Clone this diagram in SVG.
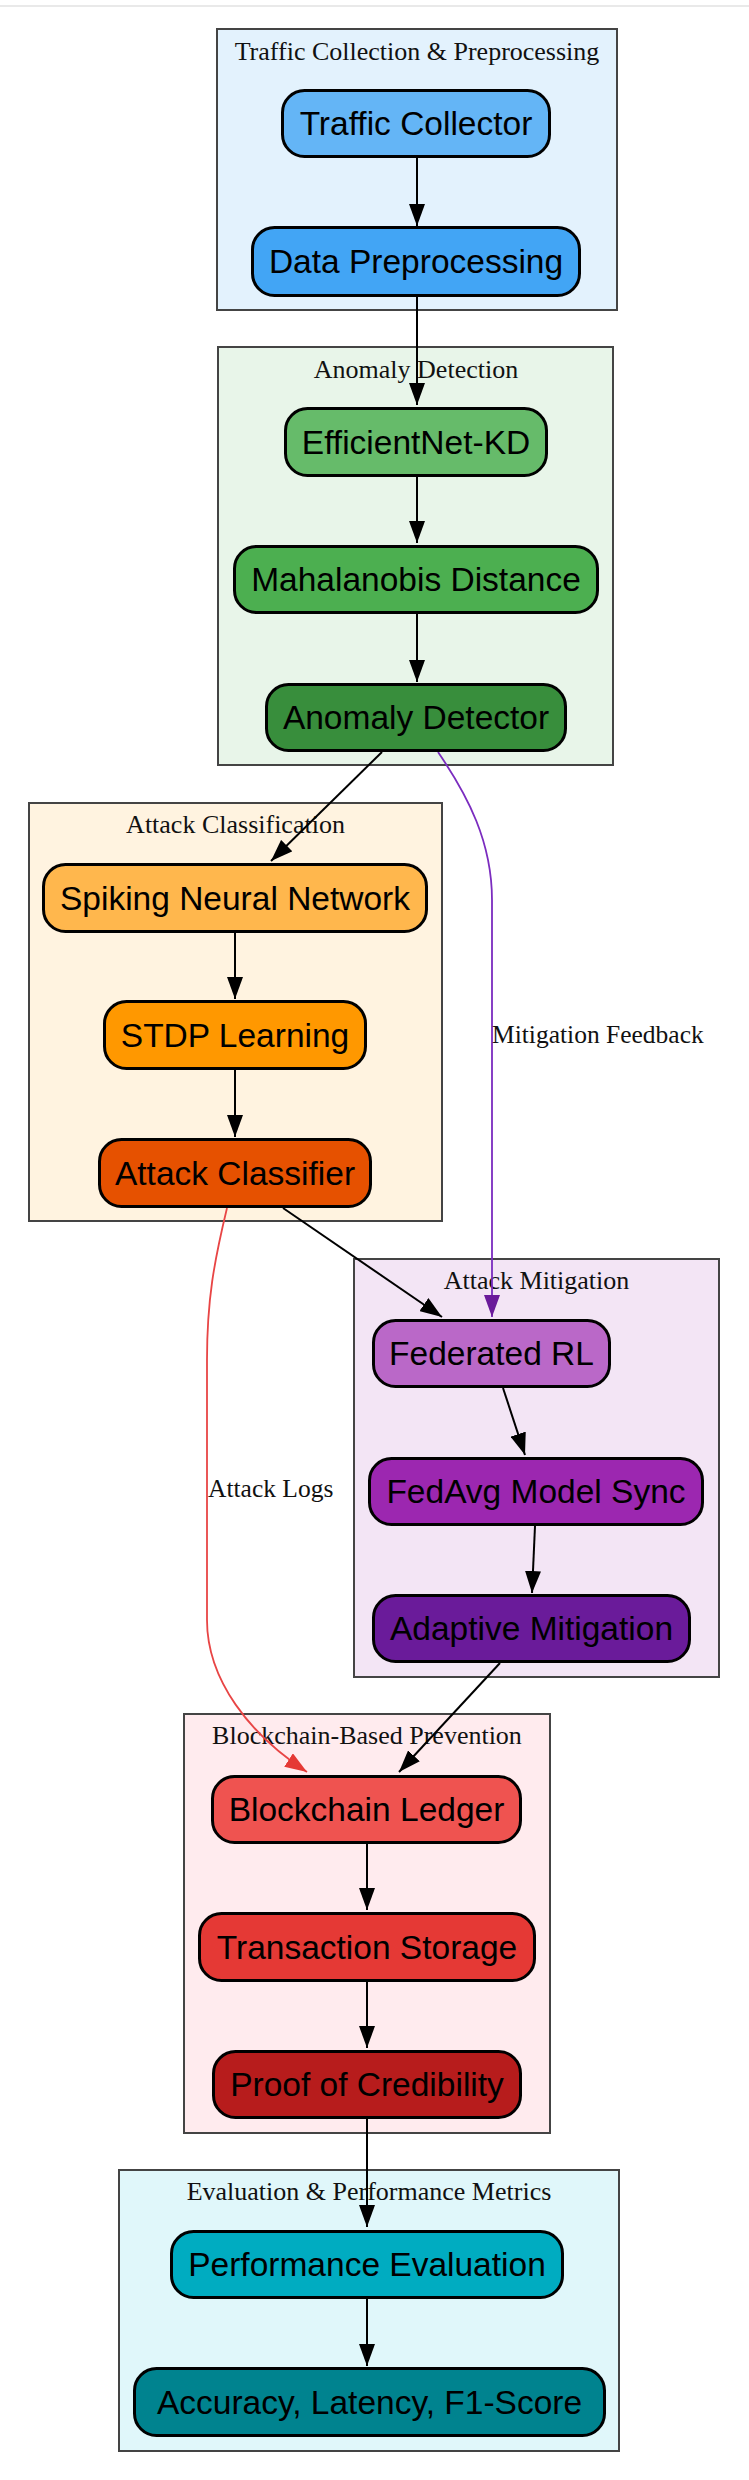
<svg xmlns="http://www.w3.org/2000/svg" width="749" height="2480" viewBox="0 0 749 2480">
<style>
.cl{stroke:#444;stroke-width:2}
.ct{font-family:"Liberation Serif","Times New Roman",serif;font-size:26px;fill:#111;text-anchor:middle}
.nd{stroke:#000;stroke-width:3}
.nt{font-family:"Liberation Sans",Arial,sans-serif;font-size:33.5px;fill:#000;text-anchor:middle}
.e{fill:none;stroke:#000;stroke-width:2}
.ep{fill:none;stroke:#7B2CBF;stroke-width:1.8}
.er{fill:none;stroke:#E84545;stroke-width:1.8}
.el{font-family:"Liberation Serif","Times New Roman",serif;font-size:25.5px;fill:#111}
</style>
<defs>
<marker id="ab" markerUnits="userSpaceOnUse" viewBox="0 0 22 16" markerWidth="22" markerHeight="16" refX="22" refY="8" orient="auto"><path d="M0,0 L22,8 L0,16 z" fill="#000"/></marker>
<marker id="ap" markerUnits="userSpaceOnUse" viewBox="0 0 22 16" markerWidth="22" markerHeight="16" refX="22" refY="8" orient="auto"><path d="M0,0 L22,8 L0,16 z" fill="#6A1B9A"/></marker>
<marker id="ar" markerUnits="userSpaceOnUse" viewBox="0 0 22 16" markerWidth="22" markerHeight="16" refX="22" refY="8" orient="auto"><path d="M0,0 L22,8 L0,16 z" fill="#E53935"/></marker>
</defs>
<rect width="749" height="2480" fill="#fff"/>
<line x1="0" y1="6" x2="749" y2="6" stroke="#e2e2e2" stroke-width="1.5"/>

<g id="cluster_traffic">
<rect class="cl" x="217" y="29" width="400" height="281" fill="#E3F2FD"/>
<text class="ct" x="417" y="60">Traffic Collection &amp; Preprocessing</text>
</g>
<g id="cluster_anomaly">
<rect class="cl" x="218" y="347" width="395" height="418" fill="#E8F5E9"/>
<text class="ct" x="416" y="378">Anomaly Detection</text>
</g>
<g id="cluster_classification">
<rect class="cl" x="29" y="803" width="413" height="418" fill="#FFF3E0"/>
<text class="ct" x="235.5" y="833">Attack Classification</text>
</g>
<g id="cluster_mitigation">
<rect class="cl" x="354" y="1259" width="365" height="418" fill="#F3E5F5"/>
<text class="ct" x="536.5" y="1289">Attack Mitigation</text>
</g>
<g id="cluster_blockchain">
<rect class="cl" x="184" y="1714" width="366" height="419" fill="#FFEBEE"/>
<text class="ct" x="367" y="1744">Blockchain-Based Prevention</text>
</g>
<g id="cluster_evaluation">
<rect class="cl" x="119" y="2170" width="500" height="281" fill="#E0F7FA"/>
<text class="ct" x="369" y="2200">Evaluation &amp; Performance Metrics</text>
</g>

<g id="edges">
<path class="e" d="M417,158 L417,226" marker-end="url(#ab)"/>
<path class="e" d="M417,297 L417,405" marker-end="url(#ab)"/>
<path class="e" d="M417,477 L417,543" marker-end="url(#ab)"/>
<path class="e" d="M417,614 L417,682" marker-end="url(#ab)"/>
<path class="e" d="M382,752 L271,861" marker-end="url(#ab)"/>
<path class="ep" d="M438,752 C468,796 492,842 492,900 L492,1317" marker-end="url(#ap)"/>
<path class="e" d="M235,933 L235,999" marker-end="url(#ab)"/>
<path class="e" d="M235,1070 L235,1137" marker-end="url(#ab)"/>
<path class="e" d="M283,1208 L442,1317" marker-end="url(#ab)"/>
<path class="er" d="M227,1208 C214,1262 207,1300 207,1360 L207,1620 C207,1680 250,1735 307,1772" marker-end="url(#ar)"/>
<path class="e" d="M503,1388 L525,1455" marker-end="url(#ab)"/>
<path class="e" d="M535,1526 L532,1593" marker-end="url(#ab)"/>
<path class="e" d="M500,1663 L399,1772" marker-end="url(#ab)"/>
<path class="e" d="M367,1844 L367,1910" marker-end="url(#ab)"/>
<path class="e" d="M367,1982 L367,2048" marker-end="url(#ab)"/>
<path class="e" d="M367,2119 L367,2227" marker-end="url(#ab)"/>
<path class="e" d="M367,2299 L367,2366" marker-end="url(#ab)"/>
<text class="el" x="492" y="1043">Mitigation Feedback</text>
<text class="el" x="208" y="1497">Attack Logs</text>
</g>

<g id="traffic_collector"><rect class="nd" x="282.5" y="90.5" width="267" height="66" rx="22" fill="#64B5F6"/><text class="nt" x="416" y="135">Traffic Collector</text></g>
<g id="data_preprocessing"><rect class="nd" x="252.5" y="227.5" width="327" height="68" rx="22" fill="#42A5F5"/><text class="nt" x="416" y="273">Data Preprocessing</text></g>
<g id="efficientnet_kd"><rect class="nd" x="285.5" y="408.5" width="261" height="67" rx="22" fill="#66BB6A"/><text class="nt" x="416" y="453.5">EfficientNet-KD</text></g>
<g id="mahalanobis"><rect class="nd" x="234.5" y="546.5" width="363" height="66" rx="22" fill="#4CAF50"/><text class="nt" x="416" y="591">Mahalanobis Distance</text></g>
<g id="anomaly_detector"><rect class="nd" x="266.5" y="684.5" width="299" height="66" rx="22" fill="#388E3C"/><text class="nt" x="416" y="729">Anomaly Detector</text></g>
<g id="snn"><rect class="nd" x="43.5" y="864.5" width="383" height="67" rx="22" fill="#FFB74D"/><text class="nt" x="235" y="909.5">Spiking Neural Network</text></g>
<g id="stdp"><rect class="nd" x="104.5" y="1001.5" width="261" height="67" rx="22" fill="#FF9800"/><text class="nt" x="235" y="1046.5">STDP Learning</text></g>
<g id="attack_classifier"><rect class="nd" x="99.5" y="1139.5" width="271" height="67" rx="22" fill="#E65100"/><text class="nt" x="235" y="1184.5">Attack Classifier</text></g>
<g id="federated_rl"><rect class="nd" x="373.5" y="1320.5" width="236" height="66" rx="22" fill="#BA68C8"/><text class="nt" x="491.5" y="1365">Federated RL</text></g>
<g id="fedavg"><rect class="nd" x="369.5" y="1458.5" width="333" height="66" rx="22" fill="#9C27B0"/><text class="nt" x="536" y="1503">FedAvg Model Sync</text></g>
<g id="adaptive_mitigation"><rect class="nd" x="373.5" y="1595.5" width="316" height="66" rx="22" fill="#6A1B9A"/><text class="nt" x="531.5" y="1640">Adaptive Mitigation</text></g>
<g id="blockchain_ledger"><rect class="nd" x="212.5" y="1776.5" width="308" height="66" rx="22" fill="#EF5350"/><text class="nt" x="366.5" y="1821">Blockchain Ledger</text></g>
<g id="transaction_storage"><rect class="nd" x="199.5" y="1913.5" width="335" height="67" rx="22" fill="#E53935"/><text class="nt" x="367" y="1958.5">Transaction Storage</text></g>
<g id="proof_of_credibility"><rect class="nd" x="213.5" y="2051.5" width="307" height="66" rx="22" fill="#B71C1C"/><text class="nt" x="367" y="2096">Proof of Credibility</text></g>
<g id="performance_evaluation"><rect class="nd" x="171.5" y="2231.5" width="391" height="66" rx="22" fill="#00ACC1"/><text class="nt" x="367" y="2276">Performance Evaluation</text></g>
<g id="metrics"><rect class="nd" x="134.5" y="2368.5" width="470" height="67" rx="22" fill="#00838F"/><text class="nt" x="369.5" y="2413.5">Accuracy, Latency, F1-Score</text></g>
</svg>
